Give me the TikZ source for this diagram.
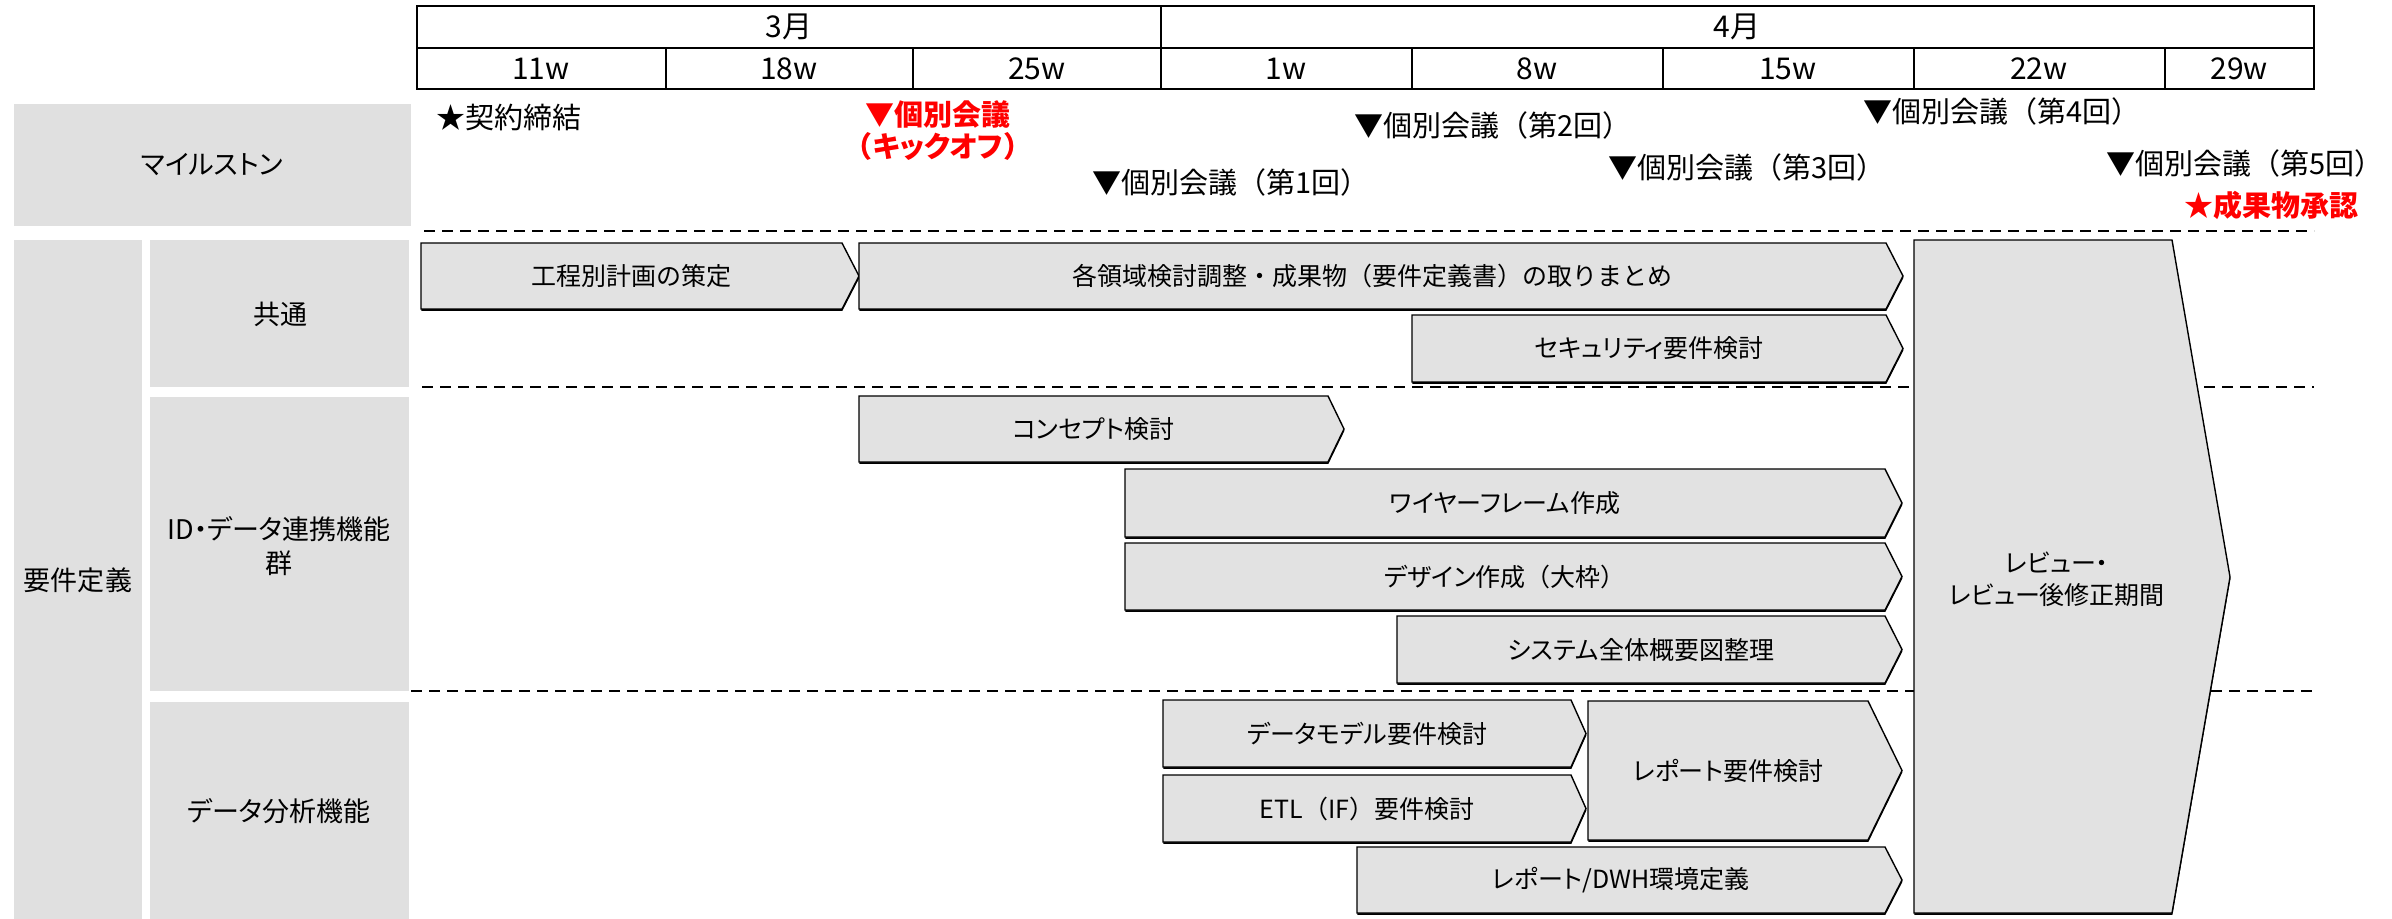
\documentclass[tikz,border=0pt]{standalone}
\usepackage{fontspec}
\setmainfont{Noto Sans CJK JP}
\newfontfamily\pfont[RawFeature=+palt]{Noto Sans CJK JP}
\newcommand\pk[1]{{\pfont #1}}
\usetikzlibrary{shadows}
\definecolor{boxgray}{RGB}{224,224,224}
\definecolor{barfill}{RGB}{226,226,226}
\definecolor{msred}{RGB}{255,0,0}
\newcommand\gbar[7]{%
  \draw[barstyle] (#2,#3) -- (#4,#3) -- (#5,{(#3+#6)/2}) -- (#4,#6) -- (#2,#6) -- cycle;
  \node[bartext] (#1) at ({(#2+#4)/2},{(#3+#6)/2}) {#7};}
\begin{document}
\begin{tikzpicture}[x=0.5pt,y=-0.5pt,
  tbl/.style={draw=black,line width=1.1pt},
  hdr/.style={font=\fontsize{15pt}{17pt}\selectfont,inner sep=0pt},
  lbl/.style={fill=boxgray,draw=none},
  lbltext/.style={font=\fontsize{13.5pt}{17pt}\selectfont,align=center,inner sep=0pt},
  ms/.style={font=\fontsize{14.5pt}{16pt}\selectfont,anchor=west,inner sep=0pt},
  msr/.style={font=\fontsize{14.5pt}{16pt}\selectfont\bfseries,text=msred,inner sep=0pt,align=center},
  sep/.style={draw=black,line width=1pt,dash pattern=on 5.5pt off 3.5pt},
  barstyle/.style={fill=barfill,draw=black,line width=0.7pt,line join=miter,
    drop shadow={shadow xshift=0.2pt,shadow yshift=-0.9pt,opacity=1,fill=black}},
  bartext/.style={font=\fontsize{12.5pt}{16pt}\selectfont,align=center,inner sep=0pt}]
\useasboundingbox (0,0) rectangle (2392,919);
% header table
\draw[tbl,fill=white] (417,6) rectangle (2314,89);
\draw[tbl] (417,48) -- (2314,48);
\draw[tbl] (1161,6) -- (1161,89);
\foreach \xx in {666,913,1412,1663,1914,2165} \draw[tbl] (\xx,48) -- (\xx,89);
\node[hdr] (mar) at (789,27) {3月};
\node[hdr] (apr) at (1737,27) {4月};
\node[hdr] (w11) at (541,69) {11w};
\node[hdr] (w18) at (789,69) {18w};
\node[hdr] (w25) at (1037,69) {25w};
\node[hdr] (w1) at (1286,69) {1w};
\node[hdr] (w8) at (1537,69) {8w};
\node[hdr] (w15) at (1788,69) {15w};
\node[hdr] (w22) at (2039,69) {22w};
\node[hdr] (w29) at (2239,69) {29w};
% left label boxes
\fill[lbl] (14,104) rectangle (411,226);
\node[lbltext] (mslbl) at (212,165) {\pk{マイルストン}};
\fill[lbl] (14,240) rectangle (142,919);
\node[lbltext] (req) at (78,580) {要件定義};
\fill[lbl] (150,240) rectangle (409,387);
\node[lbltext] (common) at (280,314) {共通};
\fill[lbl] (150,397) rectangle (409,691);
\node[lbltext] (idgrp) at (279,546) {ID\pk{・データ}連携機能\\群};
\fill[lbl] (150,702) rectangle (409,919);
\node[lbltext] (dagrp) at (279,811) {\pk{データ}分析機能};
% milestones
\node[ms] (m0) at (436,117) {★契約締結};
\node[msr] (mk) at (938,131) {▼個別会議\\（\pk{キックオフ}）};
\node[ms] (m1) at (1092,182) {▼個別会議（第1回）};
\node[ms] (m2) at (1354,125) {▼個別会議（第2回）};
\node[ms] (m3) at (1608,167) {▼個別会議（第3回）};
\node[ms] (m4) at (1863,111) {▼個別会議（第4回）};
\node[ms] (m5) at (2106,163) {▼個別会議（第5回）};
\node[msr,anchor=west] (ok) at (2184,205) {★成果物承認};
% separators
\draw[sep] (424,231) -- (2314,231);
\draw[sep] (422,387) -- (2314,387);
\draw[sep] (411,691) -- (2314,691);
% bars
\gbar{plan}{421}{243}{842}{859}{309}{工程別計画の策定}
\gbar{summ}{859}{243}{1886}{1903}{309}{各領域検討調整・成果物（要件定義書）の取りまとめ}
\gbar{sec}{1412}{315}{1886}{1903}{382}{\pk{セキュリティ}要件検討}
\gbar{concept}{859}{396}{1328}{1344}{462}{\pk{コンセプト}検討}
\gbar{wire}{1125}{469}{1885}{1902}{537}{\pk{ワイヤーフレーム}作成}
\gbar{design}{1125}{543}{1885}{1902}{610}{\pk{デザイン}作成（大枠）}
\gbar{sys}{1397}{616}{1885}{1902}{683}{\pk{システム}全体概要図整理}
\gbar{dm}{1163}{700}{1571}{1586}{767}{\pk{データモデル}要件検討}
\gbar{etl}{1163}{775}{1571}{1586}{842}{ETL（IF）要件検討}
\gbar{rep}{1588}{701}{1868}{1902}{840}{\pk{レポート}要件検討}
\gbar{dwh}{1357}{847}{1885}{1902}{913}{\pk{レポート}/DWH環境定義}
% review arrow
\draw[barstyle] (1914,240) -- (2172,240) -- (2230,577) -- (2172,913) -- (1914,913) -- cycle;
\node[bartext] (review) at (2057,579) {\pk{レビュー・}\\\pk{レビュー}後修正期間};
\end{tikzpicture}
\end{document}
